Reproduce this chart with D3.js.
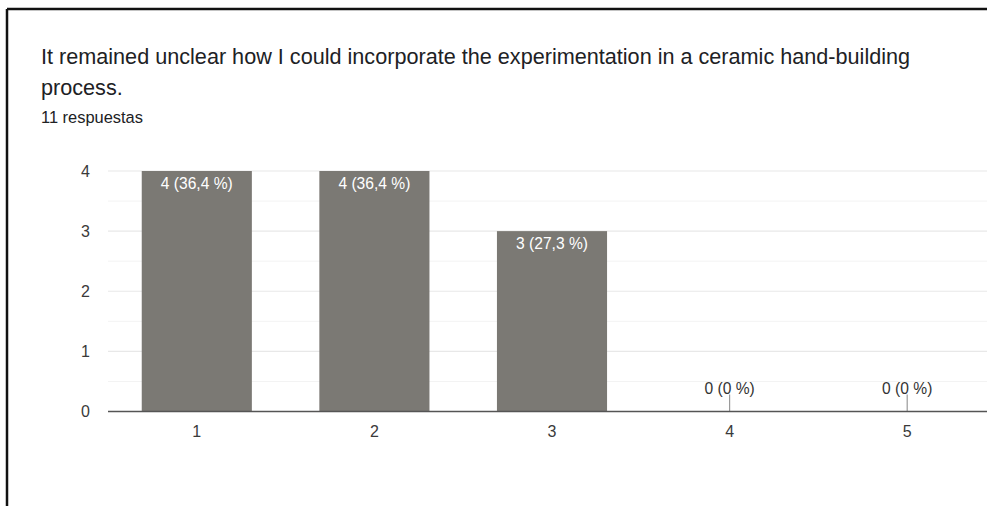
<!DOCTYPE html>
<html>
<head>
<meta charset="utf-8">
<script src="https://cdn.jsdelivr.net/npm/d3@7/dist/d3.min.js"></script>
<style>
  html, body { margin: 0; padding: 0; background: #fff; }
  svg { display: block; font-family: "Liberation Sans", Arial, Helvetica, sans-serif; }
</style>
</head>
<body>
<svg id="chart" width="987" height="506"></svg>
<script>
// Survey answers on a 1–5 scale
const categories = ["1", "2", "3", "4", "5"];
const counts = [4, 4, 3, 0, 0];
const percentLabels = ["36,4 %", "36,4 %", "27,3 %", "0 %", "0 %"];
const yTicks = [0, 1, 2, 3, 4];
const titleLines = [
  "It remained unclear how I could incorporate the experimentation in a ceramic hand-building",
  "process."
];
const responsesLabel = "11 respuestas";

const svg = d3.select("#chart");

// Scale a group of texts so that the first one spans the wanted width
function fitSize(sel, wanted) {
  const base = 16;
  sel.attr("font-size", base);
  const w = sel.node().getComputedTextLength();
  sel.attr("font-size", base * wanted / w);
}

// Card frame (left and top edges)
svg.append("line").attr("x1", 7).attr("x2", 7).attr("y1", 9).attr("y2", 506)
  .attr("stroke", "#111").attr("stroke-width", 2.5);
svg.append("line").attr("x1", 7).attr("x2", 987).attr("y1", 9).attr("y2", 9)
  .attr("stroke", "#111").attr("stroke-width", 2.5);

// Heading
const titles = svg.selectAll("text.title").data(titleLines).join("text")
  .attr("class", "title")
  .attr("x", 41).attr("y", (d, i) => 64 + i * 30.5)
  .attr("fill", "#202124")
  .text(d => d);
fitSize(titles, 870);
const resp = svg.append("text")
  .attr("x", 41).attr("y", 123)
  .attr("fill", "#202124")
  .text(responsesLabel);
fitSize(resp, 102);

// Scales
const x = d3.scaleBand().domain(categories).range([108, 996])
  .paddingInner(0.38).paddingOuter(0.19);
const y = d3.scaleLinear().domain([0, 4]).range([411.5, 171]);

// Grid: minor half-step lines, then major lines
const minor = d3.range(0.5, 4, 1);
svg.selectAll("line.minor").data(minor).join("line")
  .attr("class", "minor")
  .attr("x1", 108).attr("x2", 987)
  .attr("y1", d => y(d)).attr("y2", d => y(d))
  .attr("stroke", "#f3f3f3").attr("stroke-width", 1);
svg.selectAll("line.major").data(yTicks.filter(d => d > 0)).join("line")
  .attr("class", "major")
  .attr("x1", 108).attr("x2", 987)
  .attr("y1", d => y(d)).attr("y2", d => y(d))
  .attr("stroke", "#e8e8e8").attr("stroke-width", 1.2);

// Y axis labels
const yAxis = svg.append("g").attr("transform", "translate(90,0)")
  .attr("font-size", 16)
  .attr("font-family", "'Liberation Sans', Arial, sans-serif")
  .call(d3.axisLeft(y).tickValues(yTicks).tickSize(0).tickPadding(0).tickFormat(d3.format("d")));
yAxis.attr("font-size", 16).attr("font-family", "'Liberation Sans', Arial, sans-serif");
yAxis.select(".domain").remove();
yAxis.selectAll("text").attr("fill", "#3a3a3a");

// Bars
svg.selectAll("rect.bar").data(counts).join("rect")
  .attr("class", "bar")
  .attr("x", (d, i) => x(categories[i]))
  .attr("width", x.bandwidth())
  .attr("y", d => y(d))
  .attr("height", d => y(0) - y(d))
  .attr("fill", "#7b7974");

// Stubs for empty answers
counts.forEach((d, i) => {
  if (d === 0) {
    const cx = x(categories[i]) + x.bandwidth() / 2;
    svg.append("line")
      .attr("x1", cx).attr("x2", cx)
      .attr("y1", y(0)).attr("y2", y(0) - 17)
      .attr("stroke", "#9a9a9a").attr("stroke-width", 1.2);
  }
});

// Value labels
const values = svg.selectAll("text.value").data(counts).join("text")
  .attr("class", "value")
  .attr("x", (d, i) => x(categories[i]) + x.bandwidth() / 2)
  .attr("y", d => d > 0 ? y(d) + 17.5 : y(0) - 18)
  .attr("text-anchor", "middle")
  .attr("fill", d => d > 0 ? "#ffffff" : "#333")
  .text((d, i) => `${d} (${percentLabels[i]})`);
fitSize(values, 72);

// Baseline
svg.append("line").attr("x1", 108).attr("x2", 987)
  .attr("y1", y(0)).attr("y2", y(0))
  .attr("stroke", "#555").attr("stroke-width", 1.5);

// X axis labels
svg.selectAll("text.cat").data(categories).join("text")
  .attr("class", "cat")
  .attr("x", d => x(d) + x.bandwidth() / 2)
  .attr("y", 436.5)
  .attr("text-anchor", "middle")
  .attr("font-size", 16).attr("fill", "#3a3a3a")
  .text(d => d);
</script>
</body>
</html>
